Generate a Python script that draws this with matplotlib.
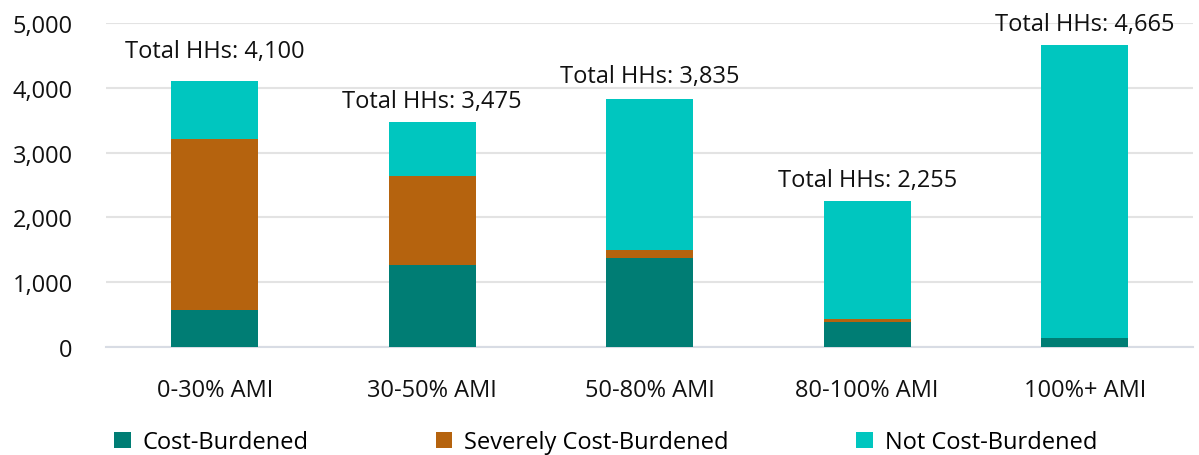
import matplotlib

matplotlib.use("Agg")
import matplotlib.pyplot as plt
import numpy as np

CATEGORIES = ["0-30% AMI", "30-50% AMI", "50-80% AMI", "80-100% AMI", "100%+ AMI"]
COST_BURDENED = [570, 1260, 1370, 390, 140]
SEVERELY_BURDENED = [2635, 1380, 130, 50, 5]
NOT_BURDENED = [895, 835, 2335, 1815, 4520]
TOTALS = [4100, 3475, 3835, 2255, 4665]

SERIES = [
    ("Cost-Burdened", COST_BURDENED, "#007D74"),
    ("Severely Cost-Burdened", SEVERELY_BURDENED, "#B5630E"),
    ("Not Cost-Burdened", NOT_BURDENED, "#00C6BF"),
]
LABEL_OFFSET_PT = [22, 15, 16, 15, 15]  # how far each total label sits above its bar

FS = 17
plt.rcParams.update({"font.family": ["Open Sans", "DejaVu Sans"], "font.size": FS})

fig = plt.figure(figsize=(11.99, 4.56), dpi=100)
ax = fig.add_axes([0.0884, 0.2368, 0.9070, 0.7105])

x = np.arange(len(CATEGORIES))
bottom = np.zeros(len(CATEGORIES))
for name, vals, color in SERIES:
    ax.bar(x, vals, width=0.4, bottom=bottom, color=color, label=name,
           linewidth=0, zorder=3)
    bottom += np.array(vals)

for xi, tot, off in zip(x, TOTALS, LABEL_OFFSET_PT):
    ax.annotate(f"Total HHs: {tot:,}", (xi, tot), textcoords="offset points",
                xytext=(0, off), ha="center", va="center", fontsize=FS,
                color="#111111", annotation_clip=False)

ax.set_xlim(-0.5, len(CATEGORIES) - 0.5)
ax.set_ylim(0, 5000)
ax.set_yticks(range(0, 5001, 1000))
ax.set_yticklabels([f"{v:,}" for v in range(0, 5001, 1000)])
ax.set_xticks(x)
ax.set_xticklabels(CATEGORIES)
ax.tick_params(axis="both", length=0, labelsize=FS, colors="#111111")
ax.tick_params(axis="x", pad=22)
ax.tick_params(axis="y", pad=24)
ax.grid(axis="y", color="#e3e3e3", linewidth=1.5, zorder=0)
for s in ["top", "right", "left"]:
    ax.spines[s].set_visible(False)
ax.spines["bottom"].set_color("#d8dce4")
ax.spines["bottom"].set_linewidth(1.5)

fig.legend(loc="lower center", bbox_to_anchor=(0.505, -0.045), ncol=3,
           frameon=False, fontsize=FS, handlelength=0.7, handleheight=0.7,
           handletextpad=0.5, columnspacing=5.4)

fig.savefig("out.png", dpi=100)
